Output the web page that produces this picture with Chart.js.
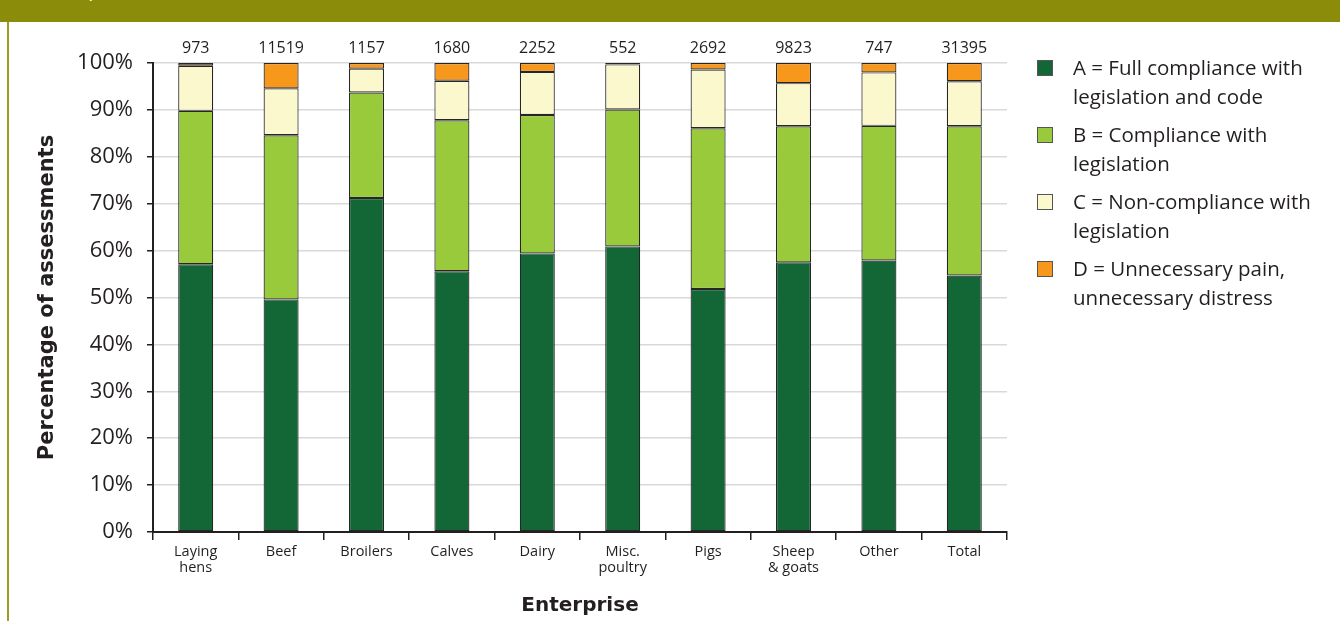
<!DOCTYPE html>
<html>
<head>
<meta charset="utf-8">
<script src="https://cdn.jsdelivr.net/npm/chart.js@4.4.1/dist/chart.umd.min.js"></script>
<style>
  body { margin: 0; width: 1340px; height: 621px; overflow: hidden; background: #fff; font-family: "Open Sans", sans-serif; color: #231f20; }
  #banner { position: absolute; left: 0; top: 0; width: 1340px; height: 22px; background: #8a8c0a; overflow: hidden; }
  #banner span { position: absolute; left: 45px; top: -21px; font-size: 20px; line-height: 20px; color: #fff; }
  #edge { position: absolute; left: 7px; top: 22px; width: 2px; height: 599px; background: #9c9e24; }
  #chartBox { position: absolute; left: 0; top: 0; width: 1340px; height: 621px; }
  #legend { position: absolute; left: 1037px; top: 53px; }
  .item { display: flex; align-items: flex-start; margin-bottom: 9px; }
  .swatch { width: 14px; height: 14px; border: 1px solid #555; margin-top: 7px; margin-right: 20px; flex: none; }
  .label { font-size: 20.5px; line-height: 29px; }
</style>
</head>
<body>
<div id="banner"><span>Compliance (2011)</span></div>
<div id="edge"></div>
<div id="chartBox"><canvas id="myChart" width="1340" height="621"></canvas></div>
<div id="legend"></div>
<script>
const categories = [['Laying', 'hens'], 'Beef', 'Broilers', 'Calves', 'Dairy', ['Misc.', 'poultry'], 'Pigs', ['Sheep', '& goats'], 'Other', 'Total'];
const counts = [973, 11519, 1157, 1680, 2252, 552, 2692, 9823, 747, 31395];

const fullCompliance = [57.1, 49.6, 71.2, 55.6, 59.4, 60.9, 51.8, 57.5, 57.9, 54.7];
const compliance = [32.7, 35.0, 22.5, 32.2, 29.5, 29.2, 34.3, 29.0, 28.7, 31.8];
const nonCompliance = [9.6, 10.0, 5.1, 8.4, 9.2, 9.6, 12.5, 9.2, 11.4, 9.6];
const unnecessaryPain = [0.6, 5.4, 1.2, 3.8, 1.9, 0.3, 1.4, 4.3, 2.0, 3.9];

const seriesNames = [
  ['A = Full compliance with', 'legislation and code'],
  ['B = Compliance with', 'legislation'],
  ['C = Non-compliance with', 'legislation'],
  ['D = Unnecessary pain,', 'unnecessary distress']
];
const seriesColors = ['#136636', '#99ca3c', '#fcf8ce', '#f7981d'];

const textColor = '#231f20';
const axisColor = '#231f20';
const titleFont = 'DejaVu Sans';


//Legend
const legend = document.getElementById('legend');
seriesNames.forEach((name, i) => {
  const item = document.createElement('div');
  item.className = 'item';
  item.innerHTML = '<div class="swatch" style="background:' + seriesColors[i] + '"></div>' +
    '<div class="label">' + name.join('<br>') + '</div>';
  legend.appendChild(item);
});


//Totals above the bars
const countLabels = {
  id: 'countLabels',
  afterDatasetsDraw(chart) {
    const ctx = chart.ctx;
    const xScale = chart.scales.x;
    ctx.save();
    ctx.font = '16px "Open Sans"';
    ctx.fillStyle = textColor;
    ctx.textAlign = 'center';
    ctx.textBaseline = 'middle';
    counts.forEach((c, i) => {
      ctx.fillText(String(c), xScale.getPixelForValue(i), chart.chartArea.top - 15);
    });
    ctx.restore();
  }
};

const datasets = [fullCompliance, compliance, nonCompliance, unnecessaryPain].map((values, i) => ({
  label: seriesNames[i].join(' '),
  data: values,
  backgroundColor: seriesColors[i],
  borderColor: '#262626',
  borderWidth: 1.2,
  borderSkipped: false,
  barPercentage: 0.41,
  categoryPercentage: 1
}));

const config = {
  type: 'bar',
  data: { labels: categories, datasets: datasets },
  options: {
    responsive: false,
    animation: false,
    layout: { padding: { top: 63, right: 333, bottom: 0, left: 0 } },
    plugins: {
      legend: { display: false },
      tooltip: { enabled: false }
    },
    scales: {
      x: {
        stacked: true,
        afterFit: scale => { scale.height = 89; },
        grid: {
          drawOnChartArea: false,
          tickLength: 8,
          tickColor: axisColor,
          lineWidth: 1.5
        },
        border: { color: axisColor, width: 2 },
        ticks: {
          color: textColor,
          padding: 4,
          font: { family: 'Open Sans', size: 14.5, lineHeight: 1.1 }
        },
        title: {
          display: true,
          text: 'Enterprise',
          color: textColor,
          padding: { top: 0, bottom: 3 },
          font: { family: titleFont, size: 20, weight: 'bold' }
        }
      },
      y: {
        stacked: true,
        min: 0,
        max: 100,
        afterFit: scale => { scale.width = 153; },
        grid: {
          color: '#d9d9d9',
          lineWidth: 1.5,
          tickLength: 6,
          tickColor: axisColor,
          tickWidth: 1.5
        },
        border: { color: axisColor, width: 2 },
        ticks: {
          stepSize: 10,
          color: textColor,
          padding: 14,
          font: { family: 'Open Sans', size: 22 },
          callback: value => value + '%'
        },
        title: {
          display: true,
          text: 'Percentage of assessments',
          color: textColor,
          padding: { top: 35, bottom: 0 },
          font: { family: titleFont, size: 21, weight: 'bold' }
        }
      }
    }
  },
  plugins: [countLabels]
};

const myChart = new Chart(document.getElementById('myChart'), config);
</script>
</body>
</html>
